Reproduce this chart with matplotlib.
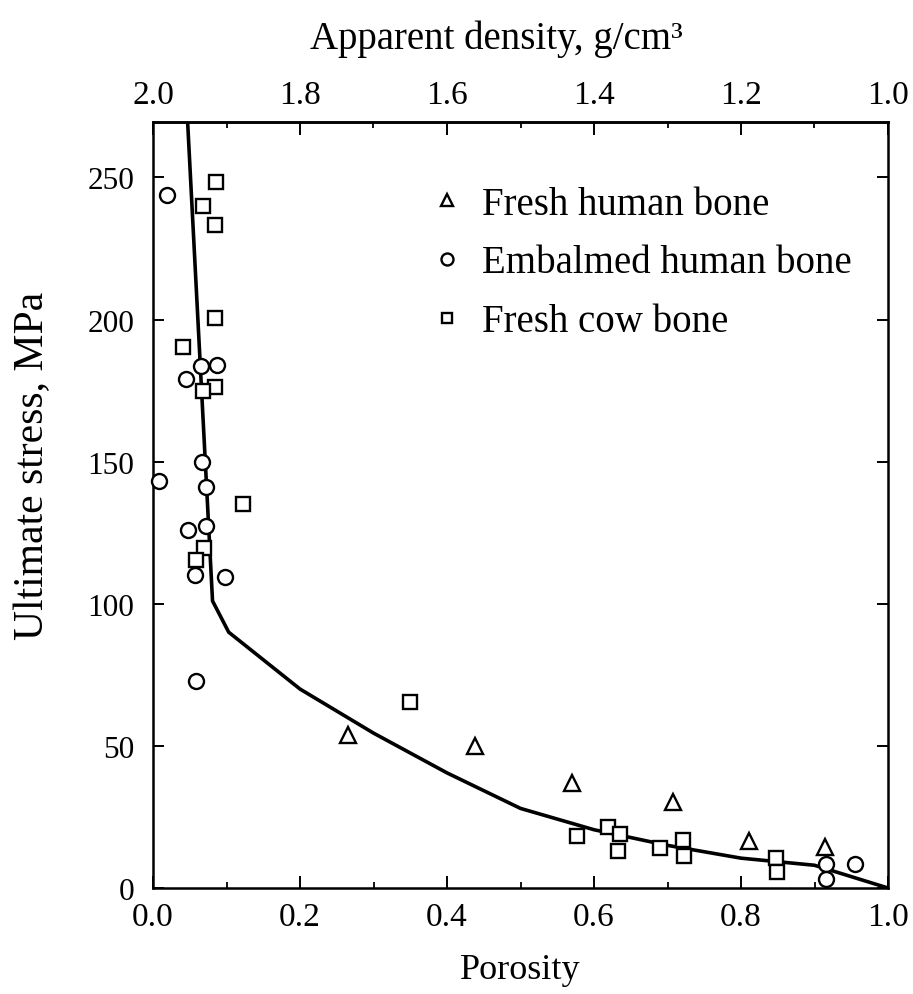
import matplotlib
matplotlib.use("Agg")
import matplotlib.pyplot as plt
from matplotlib.ticker import MultipleLocator, FixedLocator

# Measured ultimate stress (MPa) versus porosity for three bone groups
fresh_human_porosity = [0.265, 0.438, 0.570, 0.708, 0.811, 0.914]
fresh_human_stress = [54.0, 50.0, 37.0, 30.3, 16.6, 14.3]

embalmed_porosity = [0.019, 0.045, 0.065, 0.087, 0.067, 0.008, 0.072, 0.047,
                     0.072, 0.057, 0.098, 0.059, 0.916, 0.916, 0.955]
embalmed_stress = [243.7, 179.2, 183.5, 183.9, 150.0, 143.2, 141.0, 126.0,
                   127.2, 110.1, 109.4, 72.9, 8.4, 3.2, 8.4]

cow_porosity = [0.086, 0.068, 0.085, 0.085, 0.041, 0.085, 0.068, 0.123, 0.069,
                0.058, 0.349, 0.577, 0.619, 0.635, 0.633, 0.690, 0.721, 0.722,
                0.848, 0.849]
cow_stress = [248.3, 239.9, 233.4, 200.4, 190.5, 176.4, 174.9, 135.1, 119.6,
              115.4, 65.3, 18.2, 21.3, 19.0, 13.1, 14.0, 17.0, 11.1, 10.5, 5.7]

# Fitted trend curve
fit_porosity = [0.047, 0.081, 0.103, 0.20, 0.30, 0.40, 0.50, 0.60, 0.70, 0.80, 0.90, 1.00]
fit_stress = [270.0, 101.0, 90.0, 70.0, 54.5, 40.5, 28.0, 20.5, 15.0, 10.5, 8.0, 0.0]

x_ticks = [0.0, 0.2, 0.4, 0.6, 0.8, 1.0]
y_ticks = [0, 50, 100, 150, 200, 250]
density_ticks = [2.0, 1.8, 1.6, 1.4, 1.2, 1.0]

plt.rcParams["font.family"] = ["Liberation Serif", "DejaVu Serif"]

fig = plt.figure(figsize=(9.13, 9.95), dpi=100)
ax = fig.add_axes([153 / 913, 1 - 889 / 995, 735 / 913, 766 / 995])

ax.plot(fit_porosity, fit_stress, color="black", lw=2.6, zorder=2, clip_on=True)

mk = dict(linestyle="none", markerfacecolor="white", markeredgecolor="black",
          markeredgewidth=1.7, zorder=3, clip_on=False)
ax.plot(fresh_human_porosity, fresh_human_stress, marker="^", markersize=11,
        label="Fresh human bone", **mk)
ax.plot(embalmed_porosity, embalmed_stress, marker="o", markersize=10.8,
        label="Embalmed human bone", **mk)
ax.plot(cow_porosity, cow_stress, marker="s", markersize=9.4,
        label="Fresh cow bone", **mk)

ax.set_xlim(0, 1.0)
ax.set_ylim(0, 269.5)
ax.xaxis.set_major_locator(FixedLocator(x_ticks))
ax.xaxis.set_minor_locator(MultipleLocator(0.1))
ax.yaxis.set_major_locator(FixedLocator(y_ticks))
ax.set_xticklabels([f"{v:.1f}" for v in x_ticks])
ax.set_yticklabels([str(v) for v in y_ticks])

for s in ax.spines.values():
    s.set_linewidth(1.8)

ax.tick_params(axis="x", which="major", direction="in", length=9, width=1.4,
               labelsize=24, pad=10, top=False)
ax.tick_params(axis="x", which="minor", direction="in", length=4.5, width=1.3, top=False)
ax.tick_params(axis="y", which="major", direction="in", length=8, width=1.4,
               labelsize=22.5, pad=13.5, right=True)

ax.set_xlabel("Porosity", fontsize=26, labelpad=15)
ax.set_ylabel("Ultimate stress, MPa", fontsize=30)
ax.yaxis.set_label_coords(-0.137, 0.553)

# Apparent density axis on top (density = 2 - porosity)
top = ax.secondary_xaxis("top", functions=(lambda p: 2.0 - p, lambda d: 2.0 - d))
top.xaxis.set_major_locator(FixedLocator(density_ticks))
top.xaxis.set_minor_locator(MultipleLocator(0.1))
top.set_xticklabels([f"{v:.1f}" for v in density_ticks])
top.tick_params(axis="x", which="major", direction="in", length=9, width=1.4,
                labelsize=24, pad=8.5)
top.tick_params(axis="x", which="minor", direction="in", length=4.5, width=1.3)
top.spines["top"].set_linewidth(1.8)
top.set_xlabel("Apparent density, g/cm³", fontsize=28, labelpad=22.5)
top.xaxis.label.set_x(0.467)

leg = ax.legend(loc="upper left", bbox_to_anchor=(0.376, 0.917), frameon=False,
                fontsize=28, handlelength=0.9, handletextpad=0.45,
                labelspacing=0.56, markerscale=0.8, borderaxespad=0,
                borderpad=0)

fig.savefig("out.png", dpi=100)
